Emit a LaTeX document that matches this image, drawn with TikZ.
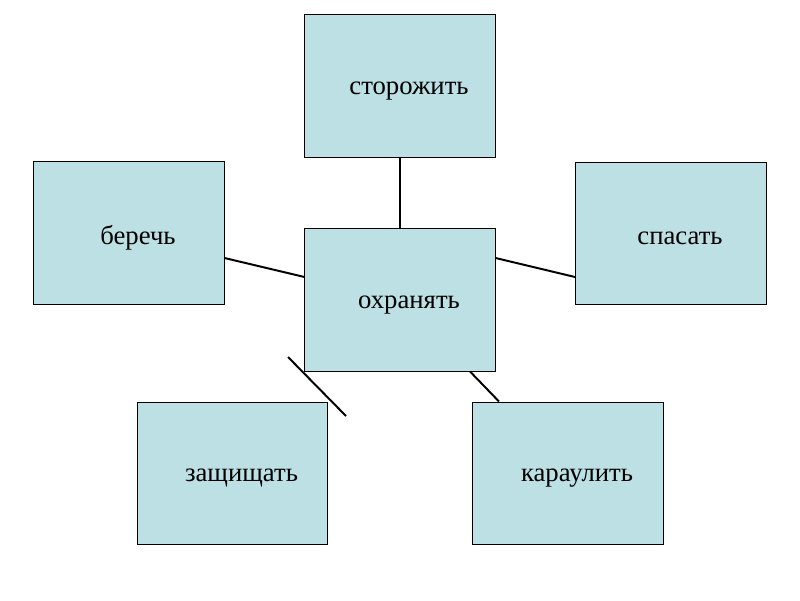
\documentclass[tikz,border=0pt]{standalone}
\usepackage{fontspec}
\setmainfont{Liberation Serif}
\usepackage{tikz}

\definecolor{boxblue}{RGB}{188,224,227}
\newcommand{\boxword}[1]{\hspace*{0.45cm}\raisebox{-0.12cm}[\height][\depth]{#1}}
\tikzset{
  wordbox/.style={draw, fill=boxblue, line width=0.7pt, minimum width=4.75cm,
    minimum height=3.55cm, inner sep=0pt, font=\fontsize{19}{21}\selectfont},
  link/.style={line width=1.4pt}
}

\begin{document}
\begin{tikzpicture}[x=0.025cm, y=-0.025cm]
                \useasboundingbox (0, 0) rectangle (800, 600);
                \node[wordbox] (storozh) at (400, 86){\boxword{сторожить}};
                \node[wordbox] (bereg) at (129, 233){\boxword{беречь}};
                \node[wordbox] (spasat) at (671, 233.5){\boxword{спасать}};
                \node[wordbox] (okhran) at (400, 300){\boxword{охранять}};
                \node[wordbox] (zashch) at (232.5, 473){\boxword{защищать}};
                \node[wordbox] (karaul) at (568, 473){\boxword{караулить}};
                \draw[link] (storozh.south) -- (okhran.north);
                \draw[link] ([yshift=-0.625cm]bereg.east) -- ([yshift=0.575cm]okhran.west);
                \draw[link] ([yshift=1.05cm]okhran.east) -- ([yshift=-1.09cm]spasat.west);
                \draw[link] ([xshift=1.75cm]okhran.south) -- ([xshift=-1.725cm]karaul.north);
                \coordinate (strayA) at (288, 357);
                \coordinate (strayB) at (346, 416);
                \draw[link] (strayA) -- (strayB);
        \end{tikzpicture}
\end{document}
